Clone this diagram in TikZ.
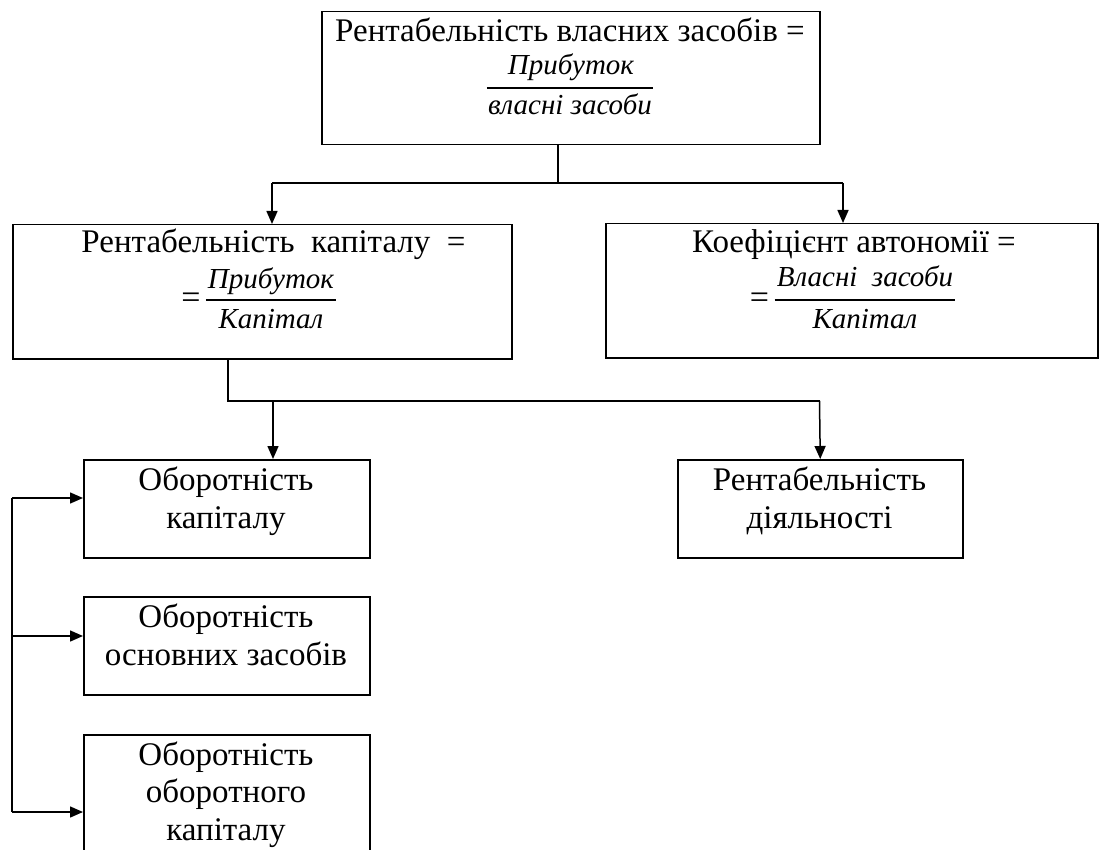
\documentclass[tikz,border=0pt]{standalone}
\usepackage{fontspec}
\setmainfont{Liberation Serif}
\usetikzlibrary{arrows.meta}
\begin{document}
\begin{tikzpicture}[x=1pt,y=-1pt,
  box/.style={draw,line width=1.5pt,inner sep=0pt,anchor=north west},
  txt/.style={inner sep=0pt,anchor=base,font=\fontsize{33}{38}\selectfont},
  frt/.style={inner sep=0pt,anchor=base,font=\fontsize{29}{34}\selectfont\itshape},
  eqt/.style={inner sep=0pt,anchor=base,font=\fontsize{34}{38}\selectfont},
  btxt/.style={inner sep=0pt,anchor=base,align=center,font=\fontsize{33}{37.5}\selectfont},
  ln/.style={line width=1.5pt},
  arr/.style={line width=1.5pt,-{Triangle[length=13pt,width=11pt]}},
  barl/.style={line width=1.3pt}]
\useasboundingbox (0,0) rectangle (1099,850);
\begin{scope}
\clip (0,0) rectangle (1099,850);
% boxes
\node[box,minimum width=498pt,minimum height=133pt] (top) at (321,11) {};
\node[box,minimum width=499pt,minimum height=134pt] (rk) at (12,224) {};
\node[box,minimum width=492pt,minimum height=134pt] (ka) at (605,223) {};
\node[box,minimum width=286pt,minimum height=98pt] (ok) at (83,459) {};
\node[box,minimum width=285pt,minimum height=98pt] (rd) at (677,459) {};
\node[box,minimum width=286pt,minimum height=98pt] (oz) at (83,596) {};
\node[box,minimum width=286pt,minimum height=140pt] (oo) at (83,734) {};

% top box text
\node[txt] (t1) at (570,42) {Рентабельність власних засобів =};
\node[frt] (tnum) at (571,75) {Прибуток};
\node[frt] (tden) at (570,115) {власні засоби};
\coordinate (tbar) at (570,88);
\draw[barl] ([xshift=-1pt]tbar -| tden.west) -- ([xshift=1pt]tbar -| tden.east);

% left middle box text
\node[txt] (r1) at (273.5,252) {Рентабельність\hspace{0.5em}капіталу\hspace{0.5em}=};
\node[eqt] (req) at (191,308) {=};
\node[frt] (rnum) at (271,288) {Прибуток};
\node[frt] (rden) at (271,328) {Капітал};
\coordinate (rbar) at (271,300);
\draw[barl] ([xshift=-2pt]rbar -| rnum.west) -- ([xshift=2pt]rbar -| rnum.east);

% right middle box text
\node[txt] (k1) at (854,252) {Коефіцієнт автономії =};
\node[eqt] (keq) at (759.5,308) {=};
\node[frt] (knum) at (865,286) {Власні\ \ засоби};
\node[frt] (kden) at (865,328) {Капітал};
\coordinate (kbar) at (865,300);
\draw[barl] ([xshift=-2pt]kbar -| knum.west) -- ([xshift=2pt]kbar -| knum.east);

% bottom texts (anchor = baseline of the last line)
\node[btxt] (okt) at (226,528) {Оборотність\\капіталу};
\node[btxt] (rdt) at (819.5,528) {Рентабельність\\діяльності};
\node[btxt] (ozt) at (226,665) {Оборотність\\основних засобів};
\node[btxt] (oot) at (226,840) {Оборотність\\оборотного\\капіталу};

% connectors top
\coordinate (j1) at (558,183);
\coordinate (j1l) at (272,183);
\coordinate (j1r) at (843,183);
\draw[ln] (j1 |- top.south) -- (j1);
\draw[ln] (j1l) -- (j1r);
\draw[arr] (j1l) -- (j1l |- rk.north);
\draw[arr] (j1r) -- (j1r |- ka.north);

% connectors middle
\coordinate (j2) at (228,401);
\coordinate (j2a) at (273,401);
\coordinate (j2r) at (819.5,401);
\draw[ln] (j2 |- rk.south) -- (j2) -- (j2r);
\draw[arr] (j2r) -- (rd.north);
\draw[arr] (j2a) -- (j2a |- ok.north);

% left bracket
\coordinate (L1) at (12,498);
\coordinate (L2) at (12,636);
\coordinate (L3) at (12,812);
\draw[ln] (L1) -- (L3);
\draw[arr] (L1) -- (L1 -| ok.west);
\draw[arr] (L2) -- (L2 -| oz.west);
\draw[arr] (L3) -- (L3 -| oo.west);
\end{scope}
\end{tikzpicture}
\end{document}
